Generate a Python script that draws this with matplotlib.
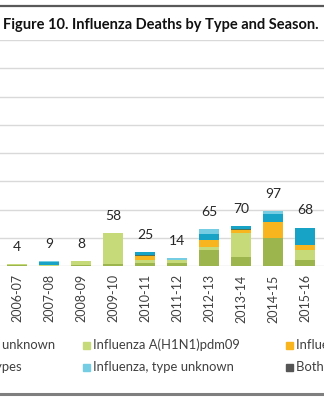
# Influenza deaths by type and season (stacked bars)
import numpy as np
import matplotlib
matplotlib.use('Agg')
import matplotlib.pyplot as plt
from matplotlib.patches import Rectangle

plt.rcParams['font.family'] = ['Lato', 'DejaVu Sans']

# data
seasons = ['2006-07', '2007-08', '2008-09', '2009-10', '2010-11',
           '2011-12', '2012-13', '2013-14', '2014-15', '2015-16']
a_unknown = [1, 0, 1, 3, 5, 6, 28, 16, 49, 10]
h1n1pdm = [3, 1, 7, 55, 5, 4, 6, 43, 0, 19]
h3n2 = [0, 0, 0, 0, 7, 0, 12, 4, 29, 9]
h1n1_seasonal = [0, 0, 0, 0, 3, 0, 0, 3, 0, 0]
b_mixed = [0, 6, 0, 0, 5, 0, 10, 4, 14, 30]
type_unknown = [0, 2, 0, 0, 0, 4, 9, 0, 5, 0]
both_ab = [0, 0, 0, 0, 0, 0, 0, 0, 0, 0]

series = [
    ('Influenza A, subtype unknown', a_unknown, '#9cb54c'),
    ('Influenza A(H1N1)pdm09', h1n1pdm, '#c6da7a'),
    ('Influenza A(H3N2)', h3n2, '#f8b51e'),
    ('Influenza A(H1N1) seasonal', h1n1_seasonal, '#4f7257'),
    ('Influenza B, mixed types', b_mixed, '#17a3c6'),
    ('Influenza, type unknown', type_unknown, '#74cde2'),
    ('Both A and B', both_ab, '#555555'),
]

W, H = 324, 400
fig = plt.figure(figsize=(W / 100, H / 100), dpi=100)

# axes span the whole width (the picture is a crop of a wider chart)
ax = fig.add_axes([0, (H - 266) / H, 1, (266 - 40) / H])
x = np.arange(len(seasons))
bottom = np.zeros(len(seasons))
for name, vals, col in series:
    ax.bar(x, vals, 0.6, bottom=bottom, color=col, label=name, zorder=2)
    bottom += np.array(vals)

for xi, tot in zip(x, bottom):
    ax.annotate(f'{int(tot)}', (xi, tot), xytext=(0, 8), textcoords='offset points',
                ha='center', va='bottom', fontsize=10, color='#262626')

ax.set_xlim(-17 / 32, (W - 17) / 32)
ax.set_ylim(0, 400)
ax.set_yticks(np.arange(0, 401, 50))
ax.yaxis.grid(True, color='#d9d9d9', linewidth=1, zorder=0)
ax.set_yticklabels([])
ax.set_xticks(x)
ax.set_xticklabels(seasons, rotation=90, fontsize=9, color='#404040')
ax.tick_params(axis='both', length=0, pad=6)
for sp in ax.spines.values():
    sp.set_visible(False)

# title and frame lines
fig.text(3 / W, 1 - 25 / H, 'Figure 10. Influenza Deaths by Type and Season.',
         fontsize=10.5, fontweight='bold', va='center', ha='left', color='#111111')
fig.add_artist(plt.Line2D([0, 1], [1 - 6 / H, 1 - 6 / H], color='#595959', lw=1.6))
fig.add_artist(plt.Line2D([0, 1], [1 - 394 / H, 1 - 394 / H], color='#7f7f7f', lw=2.2))

# legend (4 equal columns, row-major, cropped on both sides)
col_x = [-128, 83, 286, 489]
row_y = [345, 367]
for i, (name, vals, col) in enumerate(series):
    cx = col_x[i % 4]
    cy = row_y[i // 4]
    fig.add_artist(Rectangle((cx / W, 1 - (cy + 3.5) / H), 7 / W, 7 / H,
                             transform=fig.transFigure, color=col))
    fig.text((cx + 10) / W, 1 - cy / H, name, fontsize=9.4, va='center',
             ha='left', color='#404040')

fig.savefig('out.png', dpi=100)
